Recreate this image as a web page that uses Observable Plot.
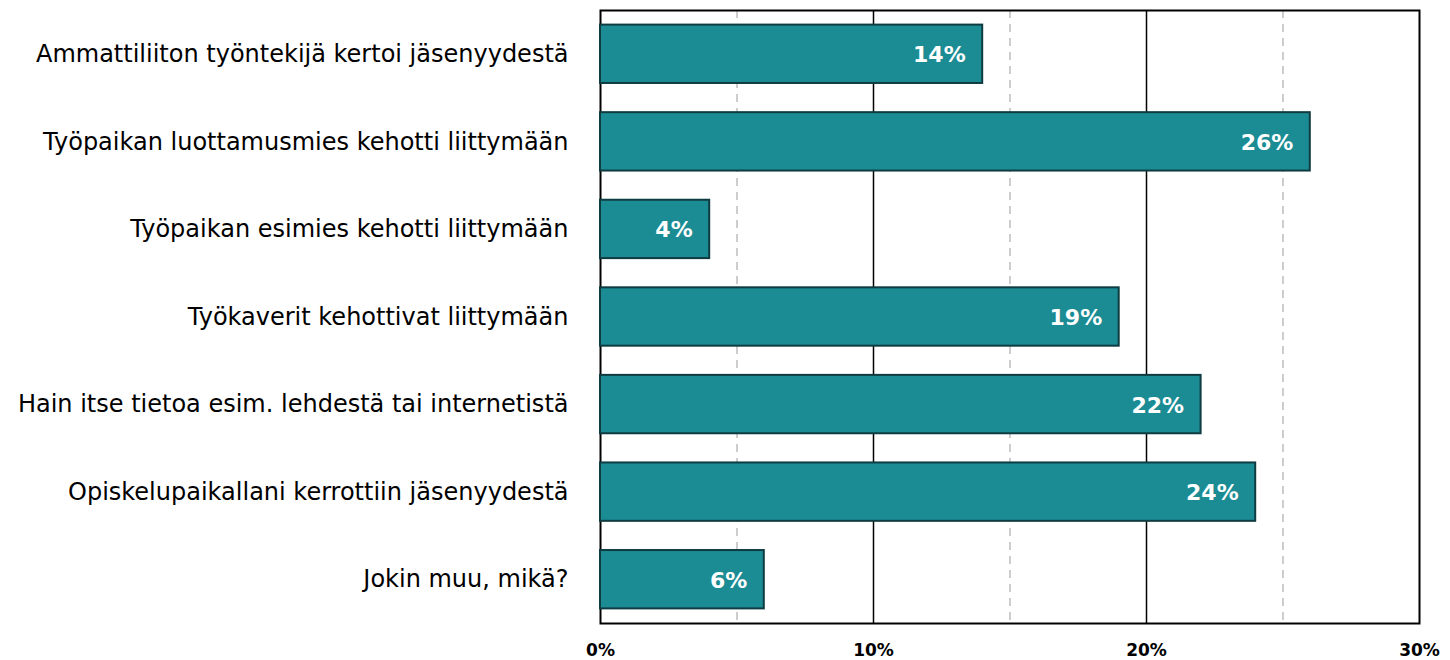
<!DOCTYPE html>
<html>
<head>
<meta charset="utf-8">
<script src="https://cdn.jsdelivr.net/npm/d3@7"></script>
<script src="https://cdn.jsdelivr.net/npm/@observablehq/plot@0.6"></script>
<style>
  html, body { margin: 0; padding: 0; background: #fff; }
  #chart svg { display: block; }
</style>
</head>
<body>
<div id="chart"></div>
<script>
const categories = [
  "Ammattiliiton työntekijä kertoi jäsenyydestä",
  "Työpaikan luottamusmies kehotti liittymään",
  "Työpaikan esimies kehotti liittymään",
  "Työkaverit kehottivat liittymään",
  "Hain itse tietoa esim. lehdestä tai internetistä",
  "Opiskelupaikallani kerrottiin jäsenyydestä",
  "Jokin muu, mikä?"
];
const values = [14, 26, 4, 19, 22, 24, 6];
const xTicks = [0, 10, 20, 30];
const minorGrid = [5, 15, 25];
const majorGrid = [10, 20];

const data = categories.map((c, i) => ({category: c, value: values[i]}));

const font = "'DejaVu Sans', Verdana, sans-serif";

const chart = Plot.plot({
  width: 1450,
  height: 660,
  marginLeft: 600,
  marginRight: 31,
  marginTop: 10,
  marginBottom: 37,
  style: {fontFamily: font, background: "#fff"},
  x: {domain: [0, 30], ticks: xTicks, tickFormat: d => d + "%", label: null, tickSize: 0, tickPadding: 20},
  y: {domain: categories, label: null, tickSize: 0, tickPadding: 32, paddingInner: 1/3, paddingOuter: 1/6, round: false},
  marks: [
    Plot.ruleX(minorGrid, {stroke: "#bdbdbd", strokeWidth: 1.5, strokeDasharray: "8,6"}),
    Plot.ruleX(majorGrid, {stroke: "#000", strokeWidth: 1.5}),
    Plot.frame({stroke: "#000", strokeWidth: 2}),
    Plot.barX(data, {x: "value", y: "category", fill: "#1b8b94", stroke: "#0f3c41", strokeWidth: 2}),
    Plot.text(data, {x: "value", y: "category", text: d => d.value + "%", textAnchor: "end", dx: -17, dy: 1, fill: "#fff", fontWeight: "bold", fontSize: 22}),
    Plot.axisX({ticks: xTicks, tickFormat: d => d + "%", tickSize: 0, tickPadding: 20, fontSize: 17, fontWeight: "bold", fill: "#000", label: null}),
    Plot.axisY({tickSize: 0, tickPadding: 32, fontSize: 24, fill: "#000", label: null})
  ]
});
document.getElementById("chart").appendChild(chart);
</script>
</body>
</html>
